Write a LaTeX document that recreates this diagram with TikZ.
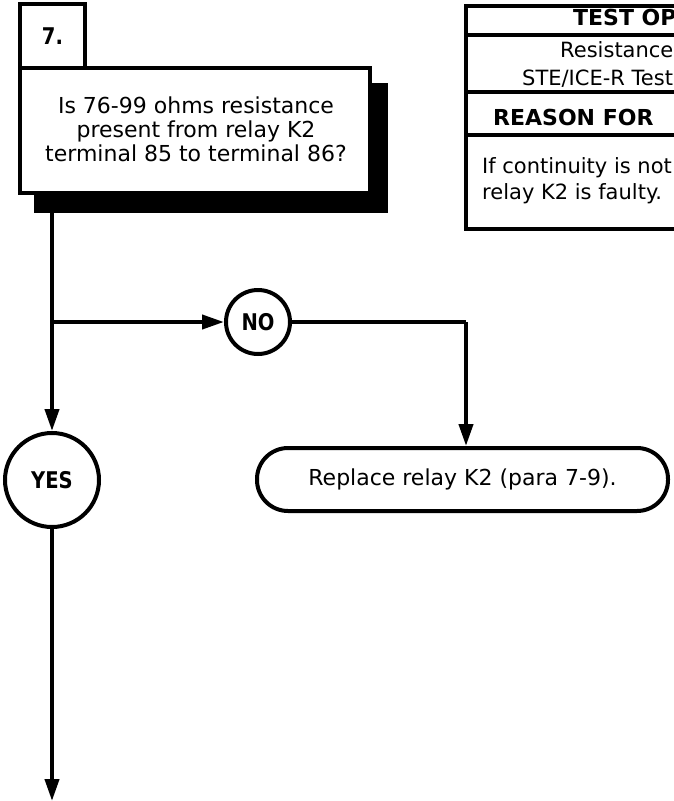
\documentclass[tikz,border=0pt]{standalone}
\usepackage{fontspec}
\setmainfont{DejaVu Sans}
\newfontfamily\labfont[FakeStretch=0.85]{DejaVu Sans}
\usetikzlibrary{arrows.meta}
\tikzset{
  flow/.style={line width=4pt},
  arr/.style={flow, -{Triangle[length=22pt,width=14pt]}},
  box/.style={draw, line width=4pt, fill=white, inner sep=0pt},
  lab/.style={draw, circle, line width=4pt, fill=white, inner sep=0pt, font=\fontsize{23}{26}\labfont\bfseries},
  body/.style={font=\fontsize{22}{24}\selectfont, align=center, inner sep=0pt},
  thead/.style={font=\fontsize{22}{24}\selectfont\bfseries, inner sep=0pt, anchor=base west},
  tbody/.style={font=\fontsize{21}{24}\selectfont, inner sep=0pt, anchor=base west},
  tcell/.style={draw, line width=4pt, anchor=north west, minimum width=450pt, inner sep=0pt}
}
\begin{document}
\begin{tikzpicture}[x=1pt,y=-1pt]
\useasboundingbox (0,0) rectangle (674,801);
% table (cut by the page edge)
\begin{scope}
\clip (0,0) rectangle (674,801);
\node[tcell, minimum height=29pt] (h1) at (464,4) {};
\node[tcell, minimum height=57pt] (b1) at (464,33) {};
\node[tcell, minimum height=43pt] (h2) at (464,90) {};
\node[tcell, minimum height=94pt] (b2) at (464,133) {};
\node[thead] (h1t) at (573,25) {TEST OPTIONS};
\node[tbody] (b1a) at (560,57) {Resistance};
\node[tbody] (b1b) at (522,85) {STE/ICE-R Test};
\node[thead] (h2t) at (493,125) {REASON FOR};
\node[tbody] (b2a) at (482,173) {If continuity is not present,};
\node[tbody] (b2b) at (482,199) {relay K2 is faulty.};
\end{scope}
% question box
\node[fill=black, minimum width=354pt, minimum height=130pt, inner sep=0pt] (sh) at (211,148) {};
\node[box, minimum width=350pt, minimum height=125pt] (q) at (195,130.5) {};
\node[body] (qt) at (196,129) {Is 76-99 ohms resistance\\present from relay K2\\terminal 85 to terminal 86?};
\node[box, minimum width=65pt, minimum height=64pt, font=\fontsize{23}{26}\labfont\bfseries] (tab) at (52.5,36) {7.};
% decisions
\node[lab, minimum size=94pt] (yes) at (52,480) {YES};
\node[lab, minimum size=64pt] (no) at (258,322) {NO};
\node[box, rounded corners=31pt, minimum width=411pt, minimum height=63pt, font=\fontsize{22}{24}\selectfont] (rep) at (462.5,479.5) {Replace relay K2 (para 7-9).};
% connectors
\coordinate (top) at (52,213);
\coordinate (br) at (52,322);
\coordinate (nc) at (466,322);
\coordinate (end) at (52,801);
\draw[arr] (top) -- (yes.north);
\draw[arr] (br) -- (no.west);
\draw[flow] (no.east) -- (nc);
\draw[arr] (nc) -- (nc |- rep.north);
\draw[arr] (yes.south) -- (end);
\end{tikzpicture}
\end{document}
